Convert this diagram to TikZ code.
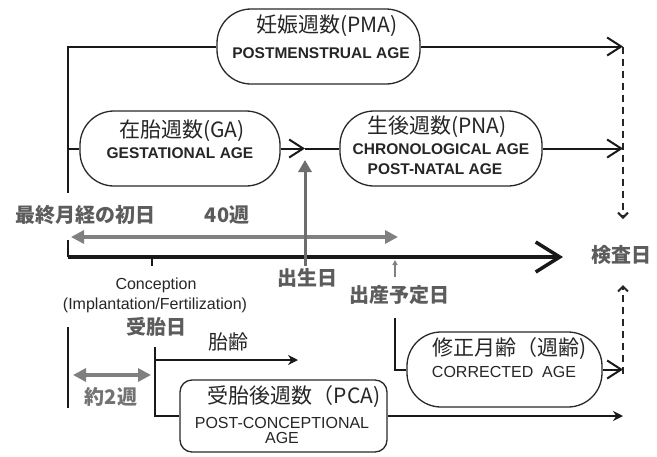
\documentclass[tikz,border=0pt]{standalone}
\usepackage{fontspec}
\setmainfont{Liberation Sans}
\newfontfamily\jp{Noto Sans CJK JP}
\usetikzlibrary{arrows.meta}
\definecolor{labgray}{RGB}{92,92,92}
\definecolor{arrgray}{RGB}{128,128,128}
\definecolor{boxline}{RGB}{40,40,40}
\begin{document}
\begin{tikzpicture}[x=1pt,y=-1pt,
  box/.style={draw=boxline, line width=1.3pt, rounded corners=34pt, inner sep=0pt},
  jpt/.style={font=\jp\fontsize{21}{23}\selectfont, inner sep=0pt, text=black!85},
  enb/.style={font=\bfseries\fontsize{15.5}{17}\selectfont, inner sep=0pt, text=black!85},
  enr/.style={font=\fontsize{16}{18}\selectfont, inner sep=0pt, text=black!85},
  glab/.style={font=\jp\bfseries\fontsize{20}{22}\selectfont, text=labgray, inner sep=0pt},
  con/.style={line width=2pt, draw=black!90},
  openarr/.style={con, -{Straight Barb[length=14pt,width=18pt]}},
  fillarr/.style={con, -{Stealth[length=10pt,width=10pt]}},
  garr/.style={line width=4pt, draw=arrgray, {Triangle[length=13pt,width=13pt]}-{Triangle[length=13pt,width=13pt]}},
  dline/.style={line width=2pt, draw=black!85, dash pattern=on 7pt off 5pt, -{Straight Barb[length=5pt,width=10pt]}}
]
\useasboundingbox[fill=white] (0,0) rectangle (657,456);

% boxes
\node[box, minimum width=203pt, minimum height=75pt] (pma) at (318.5,46.5) {};
\node[jpt] (pmaj) at (327,26) {妊娠週数(PMA)};
\node[enb] (pmae) at (321,53) {POSTMENSTRUAL AGE};

\node[box, minimum width=200pt, minimum height=75pt] (ga) at (180,148.5) {};
\node[jpt] (gaj) at (182,131) {在胎週数(GA)};
\node[enb] (gae) at (180,153) {GESTATIONAL AGE};

\node[box, minimum width=202pt, minimum height=75pt] (pna) at (441,148.5) {};
\node[jpt] (pnaj) at (437,127) {生後週数(PNA)};
\node[enb] (pnae1) at (441,149) {CHRONOLOGICAL AGE};
\node[enb] (pnae2) at (435,169) {POST-NATAL AGE};

\node[box, rounded corners=12pt, minimum width=207pt, minimum height=72pt] (pca) at (283.5,416) {};
\node[jpt] (pcaj) at (294,397) {受胎後週数（PCA)};
\node[enr] (pcae1) at (282,422.5) {POST-CONCEPTIONAL};
\node[enr] (pcae2) at (282,438) {AGE};

\node[box, minimum width=195pt, minimum height=75pt] (cor) at (504.5,369.5) {};
\node[jpt] (corj) at (510,349) {修正月齢（週齢)};
\node[enr] (core) at (504,371.5) {CORRECTED\ \ AGE};

% labels
\node[glab] (lmp) at (86,215) {最終月経の初日};
\node[glab] (w40) at (227,215) {40週};
\node[glab] (birth) at (307,278) {出生日};
\node[glab] (edd) at (399,295) {出産予定日};
\node[glab] (concj) at (156,327) {受胎日};
\node[glab, text=arrgray!90!black] (w2) at (111,397) {約2週};
\node[glab] (exam) at (621,255) {検査日};
\node[enr] (conc) at (156,285) {Conception};
\node[enr] (impl) at (155,305) {(Implantation/Fertilization)};
\node[jpt, font=\jp\fontsize{20}{22}\selectfont] (fetal) at (228,342) {胎齢};

% coordinates
\coordinate (lmpT) at (68,193);
\coordinate (exT) at (623,46.5);
\coordinate (exB) at (623,219);
\coordinate (exB2) at (623,374);
\coordinate (exU) at (623,285);
\coordinate (bpt) at (305,148.5);
\coordinate (bbase) at (305,266);
\coordinate (btip) at (305,160);
\coordinate (ax0) at (68,257);
\coordinate (ax1) at (563,257);
\coordinate (ct) at (155,347);
\coordinate (ed) at (395,318);

% connectors
\draw[con] (lmpT) |- (pma.west);
\draw[con] (ga.west -| lmpT) -- (ga.west);
\draw[openarr] (pma.east) -- (exT);
\draw[openarr] (ga.east) -- (bpt);
\draw[con] (bpt) -- (pna.west);
\draw[openarr] (pna.east) -- (pna.east -| exT);
\draw[dline] (exT) -- (exB);
\draw[dline] (exB2) -- (exU);

% timeline
\draw[garr] (71,237) -- (398,237);
\draw[con] (68,240) -- (ax0);
\draw[line width=3.5pt, draw=black!90, -{Straight Barb[length=24pt,width=30pt]}] (ax0) -- (ax1);
\draw[line width=3pt, draw=arrgray!85!black, -{Triangle[length=12pt,width=13pt]}] (bbase) -- (btip);
\draw[con] (152,257) -- (152,266);
\draw[line width=1.5pt, draw=arrgray, -{Triangle[length=5pt,width=5pt]}] (395,277) -- (395,260);

% lower part
\draw[con] (68,327) -- (68,408);
\draw[garr] (73,375) -- (151,375);
\draw[con] (ct) |- (pca.west);
\draw[fillarr] (155,360) -- (298,360);
\draw[fillarr] (pca.east) -- (pca.east -| exT);
\draw[con] (ed) |- (cor.west);
\draw[openarr] (cor.east) -- (cor.east -| exT);
\end{tikzpicture}
\end{document}
